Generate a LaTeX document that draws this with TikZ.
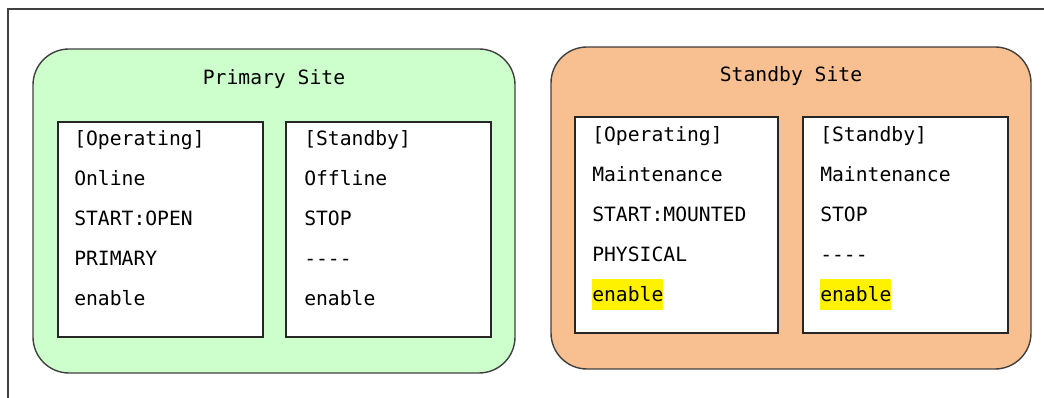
\documentclass[tikz,border=0pt]{standalone}
\usepackage{fontspec}
\setmonofont{DejaVu Sans Mono}
\usepackage{tikz}
\definecolor{primaryfill}{RGB}{204,255,204}
\definecolor{standbyfill}{RGB}{248,192,144}
\definecolor{framegray}{RGB}{64,64,64}

\begin{document}
\begin{tikzpicture}[x=0.025cm, y=-0.025cm, font=\ttfamily\fontsize{14}{16}\selectfont,
    site/.style={draw=framegray, line width=1pt, rounded corners=0.9cm},
    statbox/.style={draw=black!85, line width=1pt, fill=white},
    statline/.style={anchor=base west, inner sep=0pt},
    hilite/.style={statline, fill=yellow, text height=16pt, text depth=5.5pt}]
    \useasboundingbox (0,0) rectangle (1044,398);
    % Outer frame (runs off the right and bottom)
    \draw[framegray, line width=1pt] (8,398) -- (8,9) -- (1044,9);

    % Primary site
    \draw[site, fill=primaryfill] (33,49) rectangle (515,373);
    \node[anchor=base] (ptitle) at (274,85) {Primary Site};
    \draw[statbox] (58,122) rectangle (263,337);
    \draw[statbox] (286,122) rectangle (491,337);
    \foreach \txt [count=\i] in {{[Operating]}, Online, START:OPEN, PRIMARY, enable}
        \node[statline] (pop\i) at (74,{146+40*(\i-1)}) {\txt};
    \foreach \txt [count=\i] in {{[Standby]}, Offline, STOP, ----, enable}
        \node[statline] (pst\i) at (304,{146+40*(\i-1)}) {\txt};

    % Standby site
    \draw[site, fill=standbyfill] (551,47) rectangle (1031,369);
    \node[anchor=base] (stitle) at (791,82) {Standby Site};
    \draw[statbox] (575,117) rectangle (778,333);
    \draw[statbox] (803,117) rectangle (1008,333);
    \foreach \txt [count=\i] in {{[Operating]}, Maintenance, START:MOUNTED, PHYSICAL}
        \node[statline] (sop\i) at (592,{142+40*(\i-1)}) {\txt};
    \node[hilite] (sop5) at (592,302) {enable};
    \foreach \txt [count=\i] in {{[Standby]}, Maintenance, STOP, ----}
        \node[statline] (sst\i) at (820,{142+40*(\i-1)}) {\txt};
    \node[hilite] (sst5) at (820,302) {enable};
\end{tikzpicture}
\end{document}
